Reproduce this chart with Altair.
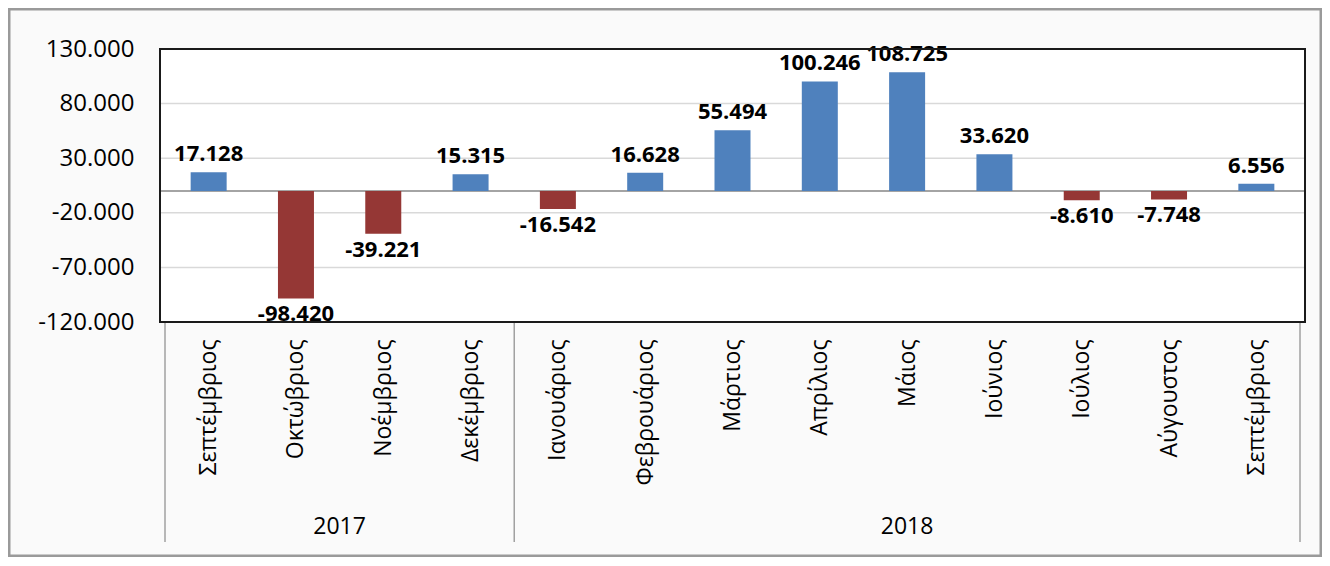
import altair as alt
import pandas as pd

months = ["Σεπτέμβριος", "Οκτώβριος", "Νοέμβριος", "Δεκέμβριος", "Ιανουάριος",
          "Φεβρουάριος", "Μάρτιος", "Απρίλιος", "Μάιος", "Ιούνιος", "Ιούλιος",
          "Αύγουστος", "Σεπτέμβριος"]
values = [17128, -98420, -39221, 15315, -16542, 16628, 55494, 100246, 108725,
          33620, -8610, -7748, 6556]
years = ["2017", "2018"]
year_sizes = [4, 9]
y_ticks = [-120000, -70000, -20000, 30000, 80000, 130000]

BLUE = "#4F81BD"
RED = "#953735"
FONT = "Open Sans"
W, H = 1145, 273
PL, PT, PR, PB = 152, 41, 17, 235


def fmt(v):
    s = f"{abs(v):,}".replace(",", ".")
    return ("-" if v < 0 else "") + s


df = pd.DataFrame({"i": list(range(len(months))), "month": months,
                   "value": values, "label": [fmt(v) for v in values]})

bounds = [-0.5]
centres = []
start = 0
for n in year_sizes:
    centres.append(start + (n - 1) / 2)
    start += n
    bounds.append(start - 0.5)
ydf = pd.DataFrame({"year": years, "c": centres})
bdf = pd.DataFrame({"b": bounds})
zdf = pd.DataFrame({"z": [0]})
gdf = pd.DataFrame({"g": y_ticks[1:-1]})

xscale = alt.Scale(domain=[-0.5, len(months) - 0.5], nice=False, zero=False)
yscale = alt.Scale(domain=[min(y_ticks), max(y_ticks)], nice=False)

month_expr = "[" + ",".join(f"'{m}'" for m in months) + "][datum.value]"
ylabel_expr = ("(datum.value < 0 ? '-' : '') + "
               "replace(format(abs(datum.value), ',.0f'), ',', '.')")

xaxis = alt.Axis(values=list(range(len(months))), labelExpr=month_expr,
                 labelAngle=270, labelAlign="right", labelBaseline="middle",
                 labelPadding=17, labelFlush=False, labelOverlap=False,
                 labelBound=False, labelFont=FONT, labelFontSize=23,
                 labelColor="#000", domain=False, ticks=False, grid=False,
                 title=None, zindex=1)
yaxis = alt.Axis(values=y_ticks, labelExpr=ylabel_expr, labelFont=FONT,
                 labelFontSize=24, labelColor="#000", labelPadding=26,
                 domain=False, ticks=False, grid=False, title=None, zindex=1)

frame = alt.Chart(zdf).mark_rect(
    fill="#fafafa", stroke="#9a9a9a", strokeWidth=3
).encode(x=alt.value(-PL + 1), x2=alt.value(W + PR - 1),
         y=alt.value(-PT + 1), y2=alt.value(H + PB - 1))

plotbg = alt.Chart(zdf).mark_rect(fill="#ffffff").encode(
    x=alt.value(0), x2=alt.value(W), y=alt.value(0), y2=alt.value(H))

grid = alt.Chart(gdf).mark_rule(color="#d9d9d9", strokeWidth=1.5).encode(
    y=alt.Y("g:Q", scale=yscale))

bars = alt.Chart(df).mark_bar(size=36).encode(
    x=alt.X("i:Q", scale=xscale, axis=xaxis),
    y=alt.Y("value:Q", scale=yscale, axis=yaxis),
    color=alt.condition(alt.datum.value > 0, alt.value(BLUE), alt.value(RED)),
)

zero = alt.Chart(zdf).mark_rule(color="#868686", strokeWidth=1.5).encode(
    y=alt.Y("z:Q", scale=yscale)
)

pos_labels = alt.Chart(df).transform_filter(alt.datum.value > 0).mark_text(
    font=FONT, fontSize=22, fontWeight="bold", color="#000",
    baseline="bottom", dy=-6
).encode(x=alt.X("i:Q", scale=xscale), y=alt.Y("value:Q", scale=yscale),
         text="label:N")

neg_labels = alt.Chart(df).transform_filter(alt.datum.value < 0).mark_text(
    font=FONT, fontSize=22, fontWeight="bold", color="#000",
    baseline="top", dy=6
).encode(x=alt.X("i:Q", scale=xscale), y=alt.Y("value:Q", scale=yscale),
         text="label:N")

seps = alt.Chart(bdf).mark_rule(color="#a0a0a0", strokeWidth=1.5).encode(
    x=alt.X("b:Q", scale=xscale),
    y=alt.value(H), y2=alt.value(H + 220),
)

year_text = alt.Chart(ydf).mark_text(
    font=FONT, fontSize=23, color="#000", baseline="alphabetic"
).encode(x=alt.X("c:Q", scale=xscale), y=alt.value(H + 212), text="year:N")

border = alt.Chart(zdf).mark_rect(
    fill="#ffffff", fillOpacity=0, stroke="#1a1a1a", strokeWidth=2
).encode(x=alt.value(0), x2=alt.value(W), y=alt.value(0), y2=alt.value(H))

chart = alt.layer(frame, plotbg, grid, zero, bars, pos_labels, neg_labels,
                  seps, year_text, border).properties(
    width=W, height=H,
    autosize=alt.AutoSizeParams(type="none"),
    padding={"left": PL, "top": PT, "right": PR, "bottom": PB},
    background="#ffffff",
).configure_view(
    fill=None, stroke=None
)

chart.save("out.html", embed_options={"renderer": "svg", "actions": False})
